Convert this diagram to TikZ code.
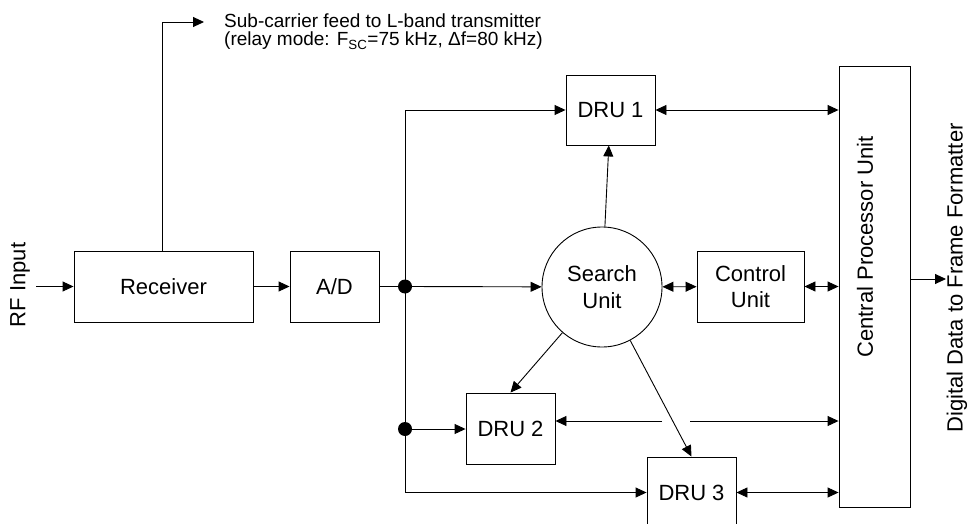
\documentclass[tikz,border=0pt]{standalone}
\usepackage{fontspec}
\setmainfont{Liberation Sans}
\usetikzlibrary{arrows.meta}
\begin{document}
\begin{tikzpicture}[x=1pt,y=-1pt,
  blk/.style={draw, line width=0.9pt, inner sep=0pt, font=\fontsize{22}{26.5}\selectfont, align=center},
  lbl/.style={inner sep=0pt, font=\fontsize{22}{26.5}\selectfont},
  sml/.style={anchor=base west, inner sep=0pt, font=\fontsize{19}{22}\selectfont},
  ln/.style={line width=0.9pt},
  arr/.style={line width=0.9pt, -{Triangle[length=11pt,width=10pt]}},
  barr/.style={line width=0.9pt, {Triangle[length=11pt,width=10pt]}-{Triangle[length=11pt,width=10pt]}},
  dot/.style={circle, fill=black, inner sep=0pt, minimum size=14pt}
]
\useasboundingbox (0,0) rectangle (974,524);
\clip (0,0) rectangle (974,524);

% blocks
\node[blk, minimum width=179pt, minimum height=71pt] (rx) at (163.5,286.5) {Receiver};
\node[blk, minimum width=89pt, minimum height=71pt] (ad) at (334.5,286.5) {A/D};
\node[blk, minimum width=89pt, minimum height=70pt] (dru1) at (610.5,110) {DRU 1};
\node[blk, minimum width=89pt, minimum height=71pt] (dru2) at (510.5,428.5) {DRU 2};
\node[blk, minimum width=89pt, minimum height=71pt] (dru3) at (691.5,492.5) {DRU 3};
\node[blk, circle, minimum size=120pt] (su) at (602,287) {Search\\Unit};
\node[blk, minimum width=107pt, minimum height=71pt] (cu) at (750.5,286.5) {Control\\Unit};
\node[blk, minimum width=71pt, minimum height=441pt] (cpu) at (874.5,286.5) {};
\node[lbl, rotate=90] (cput) at (865,247) {Central Processor Unit};

% labels
\node[lbl, rotate=90] (rfl) at (20,285) {RF Input};
\node[lbl, rotate=90] (ddl) at (957,278) {Digital Data to Frame Formatter};
\node[sml] (sct1) at (224,28) {Sub-carrier feed to L-band transmitter};
\node[sml] (sct2) at (224,46) {(relay mode: F\textsubscript{SC}=75 kHz, Δf=80 kHz)};

% junctions and free ends
\node[dot] (d1) at (405,286.5) {};
\node[dot] (d2) at (405,429) {};
\coordinate (rf) at (36,286.5);
\coordinate (out) at (946,279);
\coordinate (scup) at (162,22);
\coordinate (sc) at (204,22);
\coordinate (g1) at (662,421);
\coordinate (g2) at (690,421);

% connectors
\draw[arr] (rf) -- (rx);
\draw[arr] (rx) -- (ad);
\draw[ln] (ad) -- (d1);
\draw[arr] (d1) -- (su);
\draw[arr] (d1.center) |- (dru1.west);
\draw[arr] (d1.center) |- (dru3.west);
\draw[arr] (d2.center) -- (dru2.west |- d2.center);
\draw[barr] (dru1) -- (cpu.west |- dru1);
\draw[barr] (su) -- (cu);
\draw[barr] (cu) -- (cpu);
\draw[arr] (g1) -- (dru2.east |- g1);
\draw[arr] (g2) -- (cpu.west |- g2);
\draw[barr] (dru3) -- (cpu.west |- dru3);
\draw[arr] (su) -- (dru1);
\draw[arr] (su) -- (dru2.north);
\draw[arr] (su) -- (dru3.north);
\draw[arr] (cpu.east |- out) -- (out);
\draw[arr] (rx.north -| scup) -- (scup) -- (sc);
\end{tikzpicture}
\end{document}
